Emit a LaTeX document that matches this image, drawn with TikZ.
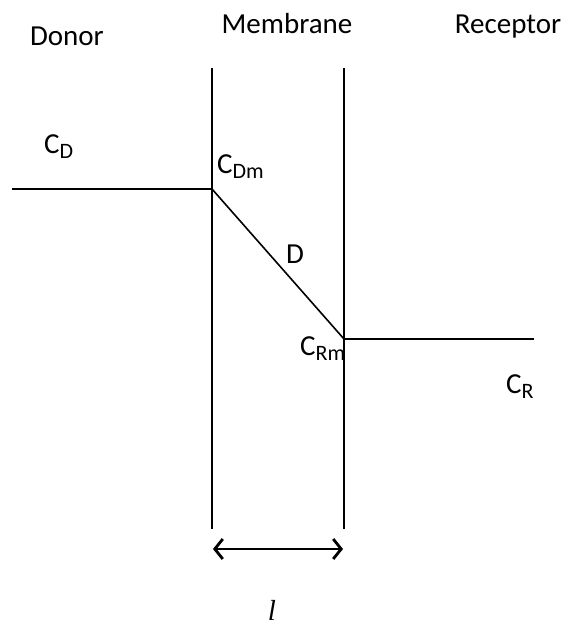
\documentclass[tikz,border=0pt]{standalone}
\usepackage{fontspec}
\setmainfont{Carlito}
\newfontfamily\serifit{Liberation Serif}
\usetikzlibrary{arrows.meta}
\newcommand\mysub[1]{\raisebox{-0.2em}{\fontsize{22}{24}\selectfont #1}}
\begin{document}
\begin{tikzpicture}[x=1pt,y=-1pt,
  lbl/.style={inner sep=0pt,font=\fontsize{29}{32}\selectfont},
  memline/.style={line width=2pt},
  conc/.style={line width=2.4pt},
  grad/.style={line width=1.6pt},
  dim/.style={line width=2.8pt,{Straight Barb[length=8pt,width=20pt,line width=2.8pt]}-{Straight Barb[length=8pt,width=20pt,line width=2.8pt]}}]
\useasboundingbox (0,0) rectangle (567,626);
% coordinates
\coordinate (lt) at (212,68);
\coordinate (lb) at (212,529);
\coordinate (rt) at (344,68);
\coordinate (rb) at (344,529);
\coordinate (d0) at (12,189);
\coordinate (d1) at (212,189);
\coordinate (r0) at (344,339);
\coordinate (r1) at (534,339);
\coordinate (a0) at (213,549);
\coordinate (a1) at (343,549);
% lines
\draw[memline] (lt) -- (lb);
\draw[memline] (rt) -- (rb);
\draw[conc] (d0) -- (d1);
\draw[grad] (d1) -- (r0);
\draw[conc] (r0) -- (r1);
\draw[dim] (a0) -- (a1);
% labels
\node[lbl,anchor=base] (donor) at (67,46) {Donor};
\node[lbl,anchor=base] (membrane) at (287,34) {Membrane};
\node[lbl,anchor=base] (receptor) at (508,34) {Receptor};
\node[lbl,anchor=base west] (cd) at (44,153) {C\mysub{D}};
\node[lbl,anchor=base west] (cdm) at (217,173) {C\mysub{Dm}};
\node[lbl,anchor=base west] (dd) at (286,263) {D};
\node[lbl,anchor=base west] (crm) at (300,355) {C\mysub{Rm}};
\node[lbl,anchor=base west] (cr) at (506,393) {C\mysub{R}};
\node[lbl,anchor=base] (ll) at (272,620) {\serifit\itshape l};
\end{tikzpicture}
\end{document}
